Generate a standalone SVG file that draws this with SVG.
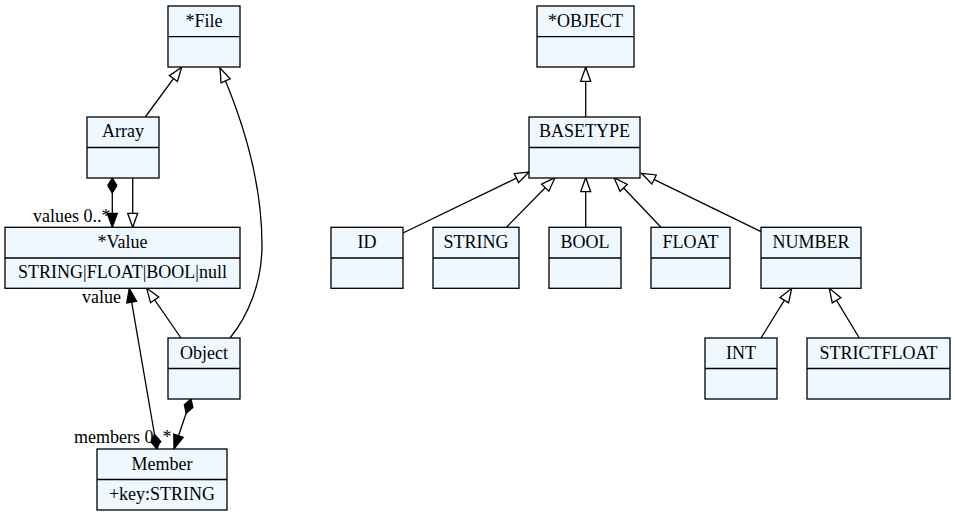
<svg xmlns="http://www.w3.org/2000/svg" width="955" height="516" viewBox="0 0 955 516">
<style>
.box{fill:#f0f8ff;stroke:#000;stroke-width:1.3}
.div{stroke:#000;stroke-width:1.3}
text{font-family:"Liberation Serif","Times New Roman",serif;font-size:18px;fill:#000}
.t{text-anchor:middle}
.e{stroke:#000;stroke-width:1.3;fill:none}
</style>
<defs>
<marker id="gen" markerUnits="userSpaceOnUse" markerWidth="16" markerHeight="12" refX="0" refY="0" orient="auto" overflow="visible">
<path d="M-14,-5 L0,0 L-14,5 Z" fill="#fff" stroke="#000" stroke-width="1.3"/>
</marker>
<marker id="arr" markerUnits="userSpaceOnUse" markerWidth="16" markerHeight="12" refX="0" refY="0" orient="auto" overflow="visible">
<path d="M-14,-5 L0,0 L-14,5 Z" fill="#000" stroke="#000" stroke-width="1.3"/>
</marker>
<marker id="dia" markerUnits="userSpaceOnUse" markerWidth="16" markerHeight="12" refX="0" refY="0" orient="auto" overflow="visible">
<path d="M0,0 L7.5,-4.5 L15,0 L7.5,4.5 Z" fill="#000" stroke="#000" stroke-width="1.3"/>
</marker>
</defs>
<rect width="955" height="516" fill="#fff"/>

<g id="connectors">
<path class="e" d="M145.3,117 L181.7,67.3" marker-end="url(#gen)"/>
<path class="e" d="M230,338 C248,316 262,283 262,245 C262,185 245,125 220,68" marker-end="url(#gen)"/>
<path class="e" d="M112.3,178 L112.3,227.3" marker-start="url(#dia)" marker-end="url(#arr)"/>
<path class="e" d="M132.7,178 L132.7,227.3" marker-end="url(#gen)"/>
<path class="e" d="M181,338 L146.7,288.3" marker-end="url(#gen)"/>
<path class="e" d="M157,449 L129.3,288.3" marker-start="url(#dia)" marker-end="url(#arr)"/>
<path class="e" d="M191,399 L174,449" marker-start="url(#dia)" marker-end="url(#arr)"/>
<text x="33" y="222">values 0..*</text>
<text x="121" y="303" text-anchor="end">value</text>
<text x="74" y="443">members 0..*</text>

<path class="e" d="M585.7,117 L585.7,67.3" marker-end="url(#gen)"/>
<path class="e" d="M403,233 L529,172" marker-end="url(#gen)"/>
<path class="e" d="M506.7,227 L555,177.7" marker-end="url(#gen)"/>
<path class="e" d="M585.7,227 L585.7,177.7" marker-end="url(#gen)"/>
<path class="e" d="M660.7,227 L614,177.7" marker-end="url(#gen)"/>
<path class="e" d="M761,231.7 L641.5,173.3" marker-end="url(#gen)"/>
<path class="e" d="M761,338 L791.7,288.3" marker-end="url(#gen)"/>
<path class="e" d="M859.3,338 L829.3,288.3" marker-end="url(#gen)"/>
</g>

<g id="File"><rect class="box" x="168" y="6" width="72" height="61"/><line class="div" x1="168" y1="36.7" x2="240" y2="36.7"/><text class="t" x="204" y="26.5">*File</text></g>
<g id="Array"><rect class="box" x="87" y="117" width="72" height="61"/><line class="div" x1="87" y1="147.5" x2="159" y2="147.5"/><text class="t" x="123" y="137">Array</text></g>
<g id="Value"><rect class="box" x="5" y="227.3" width="235" height="61"/><line class="div" x1="5" y1="258" x2="240" y2="258"/><text class="t" x="122.5" y="248">*Value</text><text class="t" x="122.5" y="277.5">STRING|FLOAT|BOOL|null</text></g>
<g id="Object"><rect class="box" x="168" y="338" width="72" height="61"/><line class="div" x1="168" y1="368.5" x2="240" y2="368.5"/><text class="t" x="204" y="358.5">Object</text></g>
<g id="Member"><rect class="box" x="97" y="449" width="130" height="61"/><line class="div" x1="97" y1="479.5" x2="227" y2="479.5"/><text class="t" x="162" y="469.5">Member</text><text class="t" x="162" y="500">+key:STRING</text></g>

<g id="OBJECT"><rect class="box" x="537" y="6" width="97" height="61"/><line class="div" x1="537" y1="36.7" x2="634" y2="36.7"/><text class="t" x="585.5" y="26.5">*OBJECT</text></g>
<g id="BASETYPE"><rect class="box" x="529" y="117" width="111" height="61"/><line class="div" x1="529" y1="147.5" x2="640" y2="147.5"/><text class="t" x="584.5" y="137">BASETYPE</text></g>
<g id="ID"><rect class="box" x="331" y="227.3" width="72" height="61"/><line class="div" x1="331" y1="258" x2="403" y2="258"/><text class="t" x="367" y="248">ID</text></g>
<g id="STRING"><rect class="box" x="433" y="227.3" width="86" height="61"/><line class="div" x1="433" y1="258" x2="519" y2="258"/><text class="t" x="476" y="248">STRING</text></g>
<g id="BOOL"><rect class="box" x="549" y="227.3" width="72" height="61"/><line class="div" x1="549" y1="258" x2="621" y2="258"/><text class="t" x="585" y="248">BOOL</text></g>
<g id="FLOAT"><rect class="box" x="651" y="227.3" width="79" height="61"/><line class="div" x1="651" y1="258" x2="730" y2="258"/><text class="t" x="690.5" y="248">FLOAT</text></g>
<g id="NUMBER"><rect class="box" x="761" y="227.3" width="100" height="61"/><line class="div" x1="761" y1="258" x2="861" y2="258"/><text class="t" x="811" y="248">NUMBER</text></g>
<g id="INT"><rect class="box" x="705" y="338" width="72" height="61"/><line class="div" x1="705" y1="368.5" x2="777" y2="368.5"/><text class="t" x="741" y="358.5">INT</text></g>
<g id="STRICTFLOAT"><rect class="box" x="807" y="338" width="143" height="61"/><line class="div" x1="807" y1="368.5" x2="950" y2="368.5"/><text class="t" x="878.5" y="358.5">STRICTFLOAT</text></g>
</svg>
